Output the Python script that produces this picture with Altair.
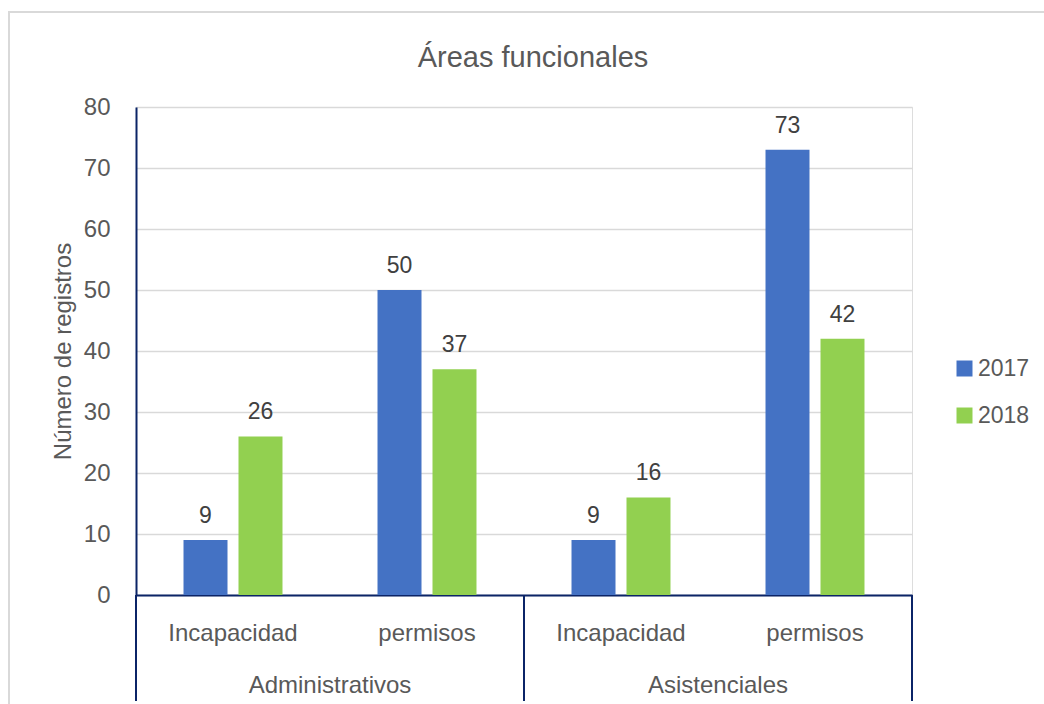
import altair as alt
import pandas as pd

# Source values
groups = ["Administrativos", "Administrativos", "Asistenciales", "Asistenciales"]
tipos = ["Incapacidad", "permisos", "Incapacidad", "permisos"]
years = ["2017", "2018"]
values_2017 = [9, 50, 9, 73]
values_2018 = [26, 37, 16, 42]
y_ticks = [0, 10, 20, 30, 40, 50, 60, 70, 80]

colors = ["#4472C4", "#92D050"]
navy = "#0B2467"
text_grey = "#595959"
font = "Liberation Sans, Arial, sans-serif"

rows = []
for g, t, a, b in zip(groups, tipos, values_2017, values_2018):
    for yr, v in zip(years, (a, b)):
        rows.append({"grupo": g, "tipo": t, "cat": f"{g}|{t}", "anio": yr, "valor": v})
df = pd.DataFrame(rows)
cats = list(dict.fromkeys(df["cat"]))
group_order = list(dict.fromkeys(groups))
df_groups = pd.DataFrame({"grupo": group_order})

W, H = 776, 488

x_cat = alt.X(
    "cat:N",
    sort=cats,
    scale=alt.Scale(paddingInner=0, paddingOuter=0),
    axis=alt.Axis(
        title=None,
        labelExpr="split(datum.label, '|')[1]",
        labelAngle=0,
        labelFont=font,
        labelFontSize=24,
        labelColor=text_grey,
        labelBaseline="alphabetic",
        labelPadding=45,
        ticks=False,
        tickSize=0,
        domainColor=navy,
        domainWidth=2,
        grid=False,
    ),
)
x_off = alt.XOffset(
    "anio:N", sort=years, scale=alt.Scale(paddingInner=0.2, paddingOuter=0.864)
)
y_val = alt.Y(
    "valor:Q",
    scale=alt.Scale(domain=[0, 80], nice=False),
    axis=alt.Axis(
        title="Número de registros",
        titleFont=font,
        titleFontSize=24,
        titleFontWeight="normal",
        titleColor=text_grey,
        titlePadding=8,
        values=y_ticks,
        labelFont=font,
        labelFontSize=24,
        labelColor=text_grey,
        labelPadding=26,
        ticks=False,
        tickSize=0,
        domainColor=navy,
        domainWidth=2,
        gridColor="#D9D9D9",
        gridWidth=1.3,
    ),
)

base = alt.Chart(df)

bars = base.mark_bar().encode(
    x=x_cat,
    xOffset=x_off,
    y=y_val,
    color=alt.Color(
        "anio:N",
        sort=years,
        scale=alt.Scale(domain=years, range=colors),
        legend=alt.Legend(
            title=None,
            orient="none",
            legendX=817,
            legendY=250,
            symbolType="square",
            symbolSize=256,
            symbolStrokeWidth=0,
            labelFont=font,
            labelFontSize=23,
            labelColor=text_grey,
            labelOffset=2,
            rowPadding=23,
            padding=0,
        ),
    ),
)

value_labels = base.mark_text(
    font=font, fontSize=23, color="#404040", baseline="alphabetic", dy=-17
).encode(x=x_cat, xOffset=x_off, y=y_val, text="valor:Q")

data_layer = alt.layer(bars, value_labels)

# Second level of the category axis: group names and separators
x_grp = alt.X(
    "grupo:N", sort=group_order, scale=alt.Scale(paddingInner=0, paddingOuter=0), axis=None
)
grp_base = alt.Chart(df_groups)
group_text = grp_base.mark_text(
    font=font, fontSize=24, color=text_grey, baseline="alphabetic"
).encode(x=x_grp, y=alt.value(586), text="grupo:N")

sep_left = grp_base.mark_rule(color=navy, strokeWidth=2).encode(
    x=alt.X("grupo:N", sort=group_order, scale=alt.Scale(paddingInner=0, paddingOuter=0),
            axis=None, bandPosition=0),
    y=alt.value(H),
    y2=alt.value(H + 106),
)
sep_right = grp_base.transform_filter(
    alt.datum.grupo == group_order[-1]
).mark_rule(color=navy, strokeWidth=2).encode(
    x=alt.X("grupo:N", sort=group_order, scale=alt.Scale(paddingInner=0, paddingOuter=0),
            axis=None, bandPosition=1),
    y=alt.value(H),
    y2=alt.value(H + 106),
)

# Thin outer frame of the chart (right and bottom edges run past the canvas)
frame = alt.Chart(df_groups.head(1)).mark_rect(
    fill=None, stroke="#D9D9D9", strokeWidth=2
).encode(x=alt.value(-127), x2=alt.value(W + 140), y=alt.value(-95), y2=alt.value(H + 120))

group_layer = alt.layer(frame, sep_left, sep_right, group_text)

chart = (
    alt.layer(data_layer, group_layer)
    .resolve_scale(x="independent")
    .properties(
        width=W,
        height=H,
        autosize=alt.AutoSizeParams(type="none"),
        padding={"left": 136, "top": 107, "right": 132, "bottom": 109},
        title=alt.TitleParams(
            "Áreas funcionales",
            font=font,
            fontSize=29,
            fontWeight="normal",
            color=text_grey,
            anchor="middle",
            frame="group",
            baseline="alphabetic",
            offset=-85,
            dx=9,
        ),
    )
    .configure_view(stroke=None)
    .configure(background="white")
)

chart.save("out.html", embed_options={"renderer": "svg", "actions": False})
